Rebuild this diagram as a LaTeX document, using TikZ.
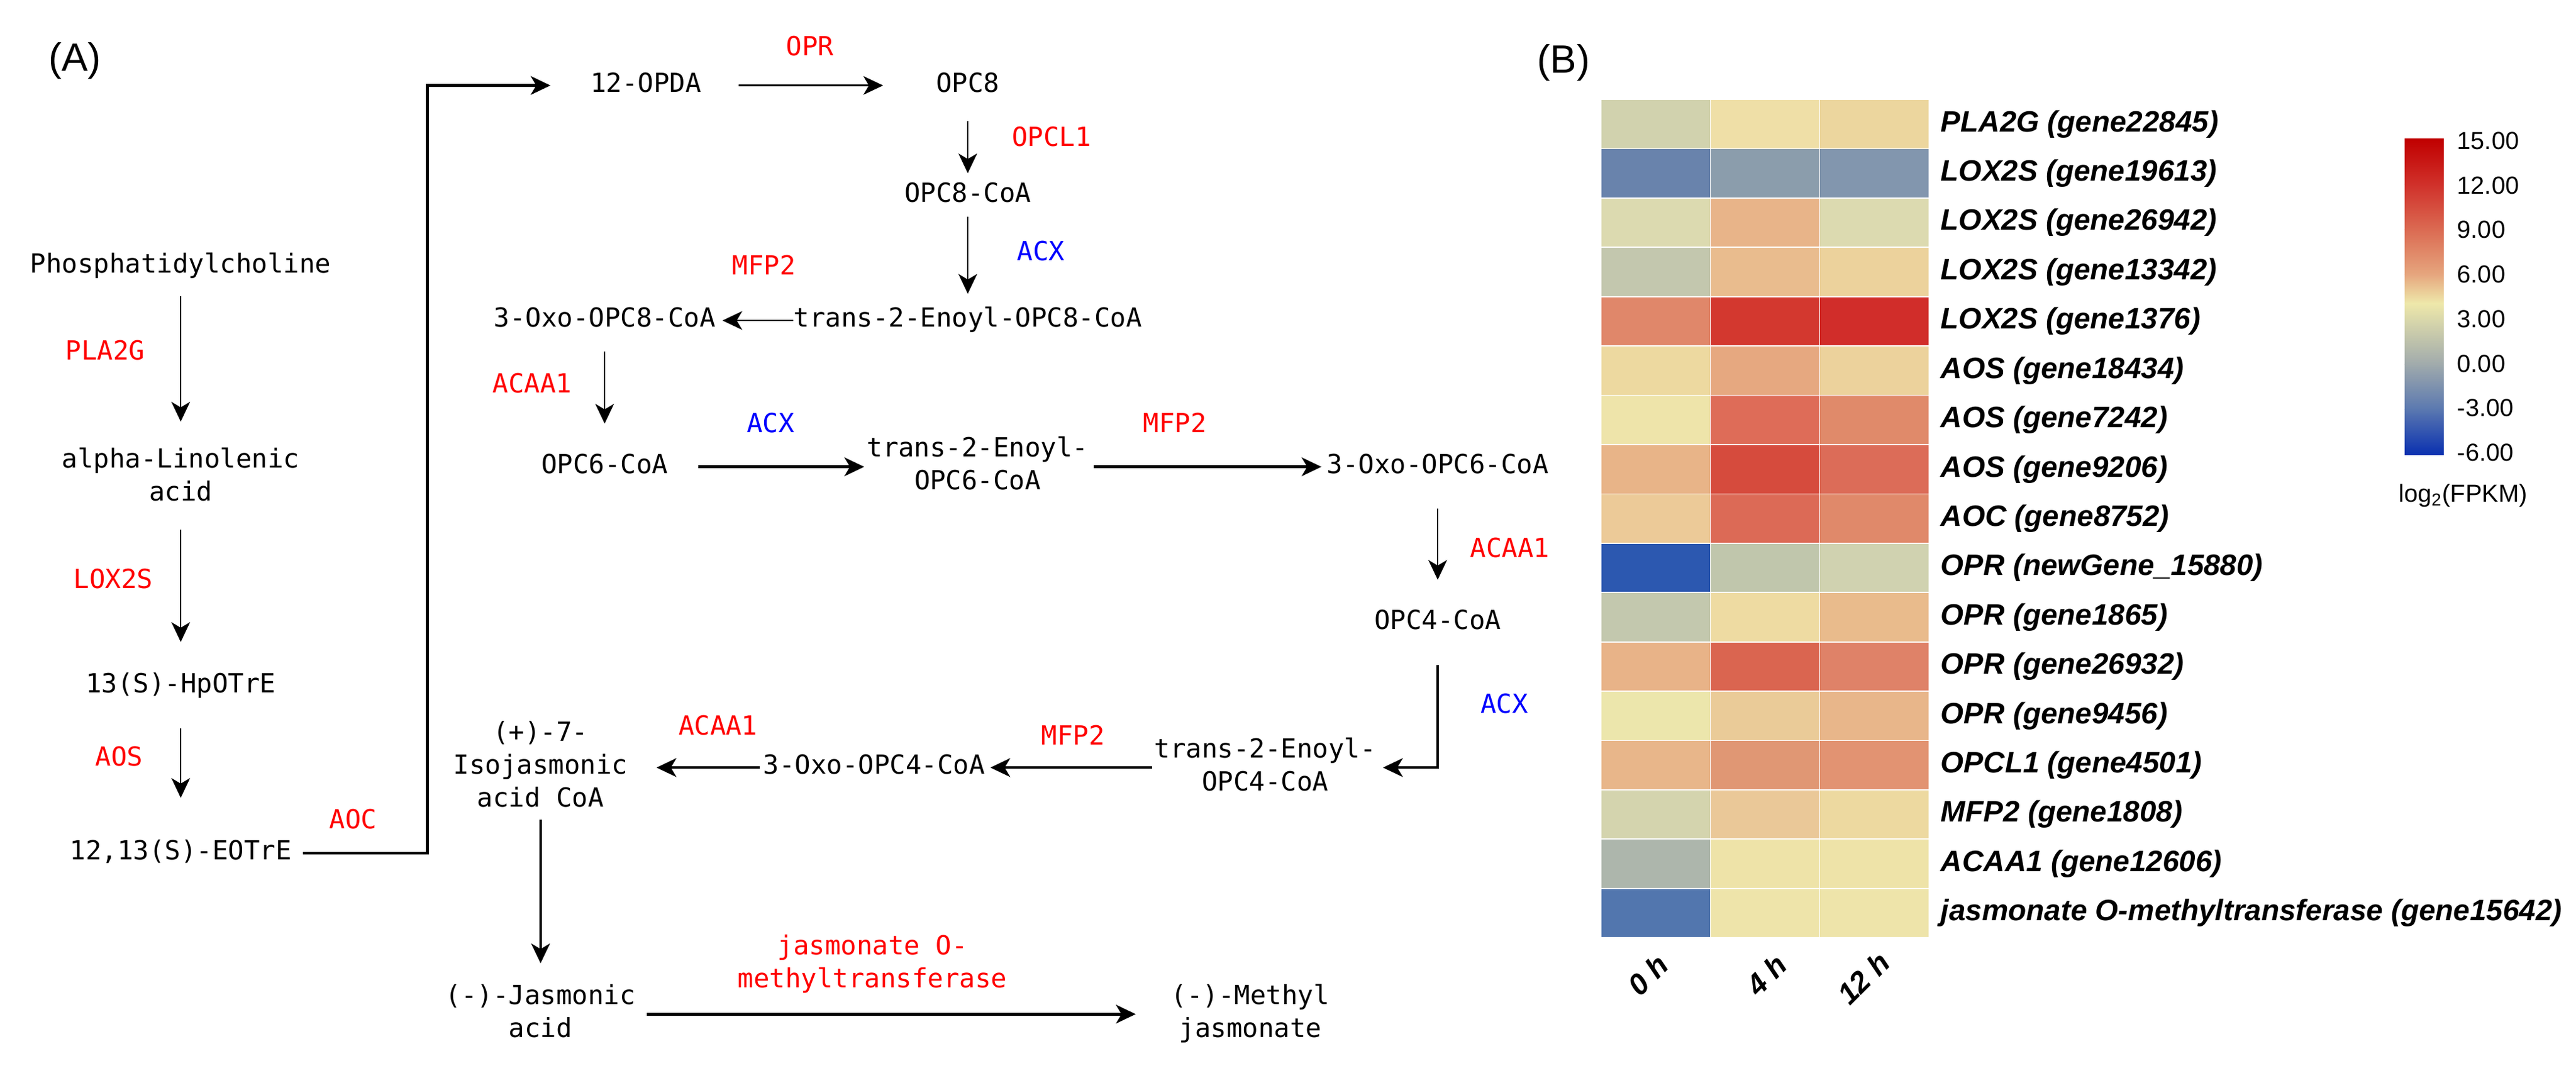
\documentclass[tikz,border=0pt]{standalone}
\usepackage{fontspec}
\setmainfont{Liberation Sans}
\newfontfamily\pathfont{DejaVu Sans Mono}
\usetikzlibrary{arrows.meta}
\definecolor{cbA}{HTML}{C00000}
\definecolor{cbB}{HTML}{D0302A}
\definecolor{cbC}{HTML}{DB6A52}
\definecolor{cbD}{HTML}{E6A67E}
\definecolor{cbE}{HTML}{EEE8AA}
\definecolor{cbF}{HTML}{A0AAAC}
\definecolor{cbG}{HTML}{5A78B0}
\definecolor{cbH}{HTML}{0A30B0}

\begin{document}
\begin{tikzpicture}[x=0.75pt,y=0.75pt,yscale=-1,xscale=1,
  pathtext/.style={inner sep=0pt,align=center,font=\pathfont\fontsize{12}{15}\selectfont},
  metab/.style={pathtext,text height=9pt,text depth=3pt},
  metabm/.style={pathtext},
  enz/.style={metab,text=red},
  enzb/.style={metab,text=blue},
  arr/.style={line width=0.75pt,-{Stealth[length=9pt,width=8.5pt,inset=2.5pt]}},
  arrthick/.style={arr,line width=1.3pt},
  hmlab/.style={anchor=west,inner sep=0pt,font=\fontsize{13.5}{16}\selectfont\bfseries\itshape},
  panel/.style={inner sep=0pt,font=\fontsize{18}{20}\selectfont}]
\useasboundingbox (0,0) rectangle (1567.8,652.8);

% panel letters
\node[panel] (pA) at (45.5,37) {(A)};
\node[panel] (pB) at (951.6,38) {(B)};

% metabolites
\node[metab] (pc) at (110,162) {Phosphatidylcholine};
\node[metabm] (ala) at (110,290.5) {\strut alpha-Linolenic\\acid\strut};
\node[metab] (hpotre) at (110,417.5) {13(S)-HpOTrE};
\node[metab] (eotre) at (110,519) {12,13(S)-EOTrE};
\node[metab] (opda) at (393,52) {12-OPDA};
\node[metab] (opc8) at (589,52) {OPC8};
\node[metab] (opc8coa) at (589,119) {OPC8-CoA};
\node[metab] (enoyl8) at (589,195) {trans-2-Enoyl-OPC8-CoA};
\node[metab] (oxo8) at (368,195) {3-Oxo-OPC8-CoA};
\node[metab] (opc6coa) at (368,284) {OPC6-CoA};
\node[metabm] (enoyl6) at (595,284) {\strut trans-2-Enoyl-\\OPC6-CoA\strut};
\node[metab] (oxo6) at (875,284) {3-Oxo-OPC6-CoA};
\node[metab] (opc4coa) at (875,379) {OPC4-CoA};
\node[metabm] (enoyl4) at (770,467) {\strut trans-2-Enoyl-\\OPC4-CoA\strut};
\node[metab] (oxo4) at (532,467) {3-Oxo-OPC4-CoA};
\node[metabm] (isoja) at (329,467) {\strut(+)-7-\\Isojasmonic\\acid CoA\strut};
\node[metabm] (ja) at (329,617) {\strut(-)-Jasmonic\\acid\strut};
\node[metabm] (meja) at (761,617) {\strut(-)-Methyl\\jasmonate\strut};
\coordinate (bend) at (260,52);

% enzymes
\node[enz] (ePLA) at (64,215) {PLA2G};
\node[enz] (eLOX) at (69,354) {LOX2S};
\node[enz] (eAOS) at (72.5,462) {AOS};
\node[enz] (eAOC) at (215,500) {AOC};
\node[enz] (eOPR) at (493,30) {OPR};
\node[enz] (eOPCL) at (640,85) {OPCL1};
\node[enzb] (eACXa) at (633.5,154.4) {ACX};
\node[enz] (eMFPa) at (465,163) {MFP2};
\node[enz] (eACAAa) at (324,235) {ACAA1};
\node[enzb] (eACXb) at (469,259) {ACX};
\node[enz] (eMFPb) at (715,259) {MFP2};
\node[enz] (eACAAb) at (919,335) {ACAA1};
\node[enzb] (eACXc) at (915.6,430) {ACX};
\node[enz] (eMFPc) at (653,449) {MFP2};
\node[enz] (eACAAc) at (437,443) {ACAA1};
\node[metabm, text=red] (eJMT) at (531,587) {\strut jasmonate O-\\methyltransferase\strut};

% reactions
\draw[arr, shorten <=7.5pt, shorten >=10.3pt] (pc.south) -- (ala.north);
\draw[arr, shorten <=8.5pt, shorten >=14pt] (ala.south) -- (hpotre.north);
\draw[arr, shorten <=13pt, shorten >=19pt] (hpotre.south) -- (eotre.north);
\draw[arrthick, shorten <=5pt, shorten >=18pt] (eotre.east) -| (bend) -- (opda.west);
\draw[arr, shorten <=17pt, shorten >=24pt] (opda.east) -- (opc8.west);
\draw[arr, shorten <=10pt, shorten >=4pt] (opc8.south) -- (opc8coa.north);
\draw[arr, shorten <=3.5pt, shorten >=6pt] (opc8coa.south) -- (enoyl8.north);
\draw[arr, shorten >=3pt] (enoyl8.west) -- (oxo8.east);
\draw[arr, shorten <=8pt, shorten >=13.5pt] (oxo8.south) -- (opc6coa.north);
\draw[arrthick, shorten <=13.7pt, shorten >=1pt] (opc6coa.east) -- (enoyl6.west);
\draw[arrthick, shorten <=2.3pt, shorten >=2.3pt] (enoyl6.east) -- (oxo6.west);
\draw[arr, shorten <=12.8pt, shorten >=13.5pt] (oxo6.south) -- (opc4coa.north);
\draw[arrthick, shorten <=13pt, shorten >=3pt] (opc4coa.south) |- (enoyl4.east);
\draw[arrthick, shorten <=1pt, shorten >=2.3pt] (enoyl4.west) -- (oxo4.east);
\draw[arrthick, shorten <=1.5pt, shorten >=13pt] (oxo4.west) -- (isoja.east);
\draw[arrthick, shorten <=1pt, shorten >=8pt] (isoja.south) -- (ja.north);
\draw[arrthick, shorten <=5pt, shorten >=16pt] (ja.east) -- (meja.west);

% heatmap
\foreach \ca/\cb/\cc/\lab [count=\r from 0] in {
  D1D2AE/EFDFA7/ECD69E/{PLA2G (gene22845)},
  6983AC/8B9DAC/8296AE/{LOX2S (gene19613)},
  DCDAB0/E8B489/DCDAB0/{LOX2S (gene26942)},
  C3C7AE/E9BC8E/ECD29C/{LOX2S (gene13342)},
  E0876A/D3382F/D12D2A/{LOX2S (gene1376)},
  EDD9A0/E6A880/ECD29C/{AOS (gene18434)},
  EEE4AA/DE6C58/E08A6A/{AOS (gene7242)},
  E8B488/D64B3D/DC6C58/{AOS (gene9206)},
  ECCA98/DC6A56/E0896A/{AOC (gene8752)},
  2C58B0/C0C6AC/D0D2B0/{OPR (newGene\_15880)},
  C3C8AE/EEDBA2/E9BB8C/{OPR (gene1865)},
  E8B388/DA6550/DF8268/{OPR (gene26932)},
  ECE6AC/EACB98/E8B68A/{OPR (gene9456)},
  E8B68A/E09774/E29372/{OPCL1 (gene4501)},
  D4D4AE/EAC898/EDD9A0/{MFP2 (gene1808)},
  ADB6AC/EEE3A8/EEE3A8/{ACAA1 (gene12606)},
  5276AE/EEE4AA/EEE4AA/{jasmonate O-methyltransferase (gene15642)}}
{
  \edef\setcols{\noexpand\definecolor{hma}{HTML}{\ca}\noexpand\definecolor{hmb}{HTML}{\cb}\noexpand\definecolor{hmc}{HTML}{\cc}}\setcols
  \filldraw[fill=hma, draw=white, line width=0.5pt] (974.5,{60.5+30*\r}) rectangle ++(66.5,30);
  \filldraw[fill=hmb, draw=white, line width=0.5pt] (1041,{60.5+30*\r}) rectangle ++(66.5,30);
  \filldraw[fill=hmc, draw=white, line width=0.5pt] (1107.5,{60.5+30*\r}) rectangle ++(66.5,30);
  \node[hmlab] (lab\r) at (1181,{75.5+30*\r}) {\lab};
}
\node[hmlab, anchor=center, rotate=45] (t0) at (1003,593) {0 h};
\node[hmlab, anchor=center, rotate=45] (t4) at (1075,593) {4 h};
\node[hmlab, anchor=center, rotate=45] (t12) at (1134,595) {12 h};

% colour bar
\shade[top color=cbA, bottom color=cbB] (1463.5,84.6) rectangle (1487.3,112.1);
\shade[top color=cbB, bottom color=cbC] (1463.5,112) rectangle (1487.3,139.6);
\shade[top color=cbC, bottom color=cbD] (1463.5,139.5) rectangle (1487.3,167.1);
\shade[top color=cbD, bottom color=cbE] (1463.5,167) rectangle (1487.3,184.6);
\shade[top color=cbE, bottom color=cbF] (1463.5,184.5) rectangle (1487.3,221.8);
\shade[top color=cbF, bottom color=cbG] (1463.5,221.7) rectangle (1487.3,249.1);
\shade[top color=cbG, bottom color=cbH] (1463.5,249) rectangle (1487.3,276.6);
\foreach \v [count=\k from 0] in {15.00,12.00,9.00,6.00,3.00,0.00,-3.00,-6.00}
  \node[anchor=west, inner sep=0pt, font=\fontsize{11.25}{13}\selectfont] (tick\k) at (1495.3,{85.7+27.1*\k}) {\v};
\node[inner sep=0pt, font=\fontsize{11.25}{13}\selectfont] (cblab) at (1499,301.5) {log\textsubscript{2}(FPKM)};
\end{tikzpicture}
\end{document}
